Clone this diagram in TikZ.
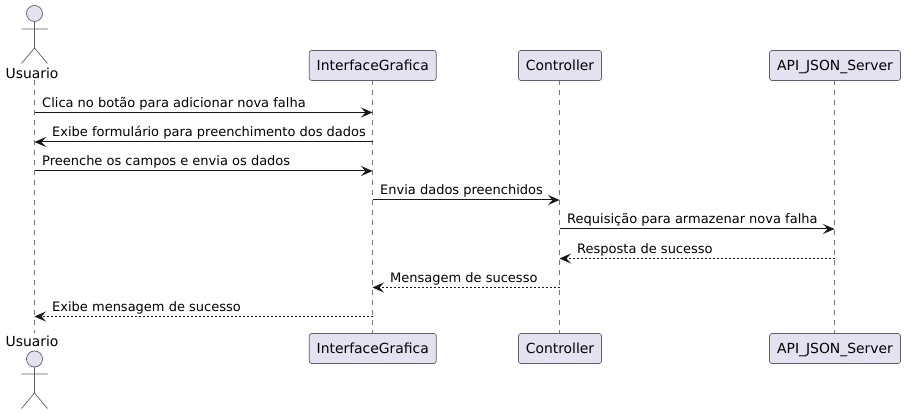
\documentclass[tikz,border=0pt]{standalone}
\usepackage{fontspec}
\setmainfont{DejaVu Sans}
\usetikzlibrary{arrows.meta}
\definecolor{pfill}{HTML}{E2E2F0}
\definecolor{pline}{HTML}{181818}
\definecolor{boxline}{HTML}{5F5F6A}
\definecolor{lifeline}{HTML}{777777}
\tikzset{
  x=1pt,y=-1pt,
  pbox/.style={draw=boxline,fill=pfill,line width=0.7pt,rounded corners=2.5pt,minimum height=30pt,inner sep=0pt,anchor=center,text=black},
  ptext/.style={inner sep=0pt,anchor=base,font=\fontsize{13.9}{16}\selectfont,text=black},
  life/.style={draw=lifeline,line width=0.7pt,dash pattern=on 5pt off 5pt},
  msg/.style={draw=pline,line width=1pt,-{Stealth[length=11.5pt,width=10pt,inset=4.5pt,fill=pline]}},
  reply/.style={draw=pline,line width=0.8pt,dash pattern=on 2pt off 2pt,-{Stealth[length=11.5pt,width=10pt,inset=4.5pt,fill=pline]}},
  lab/.style={anchor=base west,inner sep=0pt,font=\fontsize{13}{15}\selectfont,text=black},
  aname/.style={inner sep=0pt,anchor=base,font=\fontsize{13.9}{16}\selectfont,text=black},
  actorline/.style={draw=boxline,line width=0.7pt},
  actorhead/.style={draw=boxline,fill=pfill,line width=0.7pt},
}
\begin{document}
\begin{tikzpicture}
\useasboundingbox (0,0) rectangle (905,414);
% lifeline ends
\coordinate (ut) at (34.5,80);
\coordinate (ub) at (34.5,333);
\coordinate (it) at (372.5,80);
\coordinate (ib) at (372.5,334);
\coordinate (ct) at (559.5,80);
\coordinate (cb) at (559.5,334);
\coordinate (at) at (834.5,80);
\coordinate (ab) at (834.5,334);
\draw[life] (ut) -- (ub);
\draw[life] (it) -- (ib);
\draw[life] (ct) -- (cb);
\draw[life] (at) -- (ab);
% participants
\node[pbox,minimum width=127pt] (ifTop) at (372.75,65.5) {};
\node[pbox,minimum width=83pt] (ctTop) at (560,65.5) {};
\node[pbox,minimum width=131pt] (apTop) at (835,65.5) {};
\node[pbox,minimum width=127pt] (ifBot) at (372.75,348.5) {};
\node[pbox,minimum width=83pt] (ctBot) at (560,348.5) {};
\node[pbox,minimum width=131pt] (apBot) at (835,348.5) {};
\node[ptext] (ifTopT) at (372.75,70.6) {InterfaceGrafica};
\node[ptext] (ctTopT) at (560,70.6) {Controller};
\node[ptext] (apTopT) at (835,70.6) {API\_JSON\_Server};
\node[ptext] (ifBotT) at (372.75,353.6) {InterfaceGrafica};
\node[ptext] (ctBotT) at (560,353.6) {Controller};
\node[ptext] (apBotT) at (835,353.6) {API\_JSON\_Server};
% actor top
\draw[actorhead] (34.5,13.5) circle (8);
\draw[actorline] (34.5,21.5) -- (34.5,48) (21.5,29) -- (47.5,29) (21.5,63.5) -- (34.5,48) -- (47.5,63.5);
\node[aname] (uTop) at (32,78.6) {Usuario};
% actor bottom
\node[aname] (uBot) at (32,346.6) {Usuario};
\draw[actorhead] (34.5,359) circle (8);
\draw[actorline] (34.5,367) -- (34.5,393) (21.5,374) -- (47.5,374) (21.5,408.5) -- (34.5,393) -- (47.5,408.5);
% message anchors
\foreach \n/\y in {1/112.5,2/142,3/171,4/200,5/229,6/258.5,7/287.5,8/316.5}{
  \coordinate (u\n) at (34.5,\y);
  \coordinate (i\n) at (372.5,\y);
  \coordinate (c\n) at (559.5,\y);
  \coordinate (a\n) at (834.5,\y);
}
\draw[msg] (u1) -- (i1);
\draw[msg] (i2) -- (u2);
\draw[msg] (u3) -- (i3);
\draw[msg] (i4) -- (c4);
\draw[msg] (c5) -- (a5);
\draw[reply] (a6) -- (c6);
\draw[reply] (c7) -- (i7);
\draw[reply] (i8) -- (u8);
\node[lab] (m1) at (42,107.5) {Clica no botão para adicionar nova falha};
\node[lab] (m2) at (52,137) {Exibe formulário para preenchimento dos dados};
\node[lab] (m3) at (42,166) {Preenche os campos e envia os dados};
\node[lab] (m4) at (380,195) {Envia dados preenchidos};
\node[lab] (m5) at (567,224) {Requisição para armazenar nova falha};
\node[lab] (m6) at (577,253.4) {Resposta de sucesso};
\node[lab] (m7) at (390,282.4) {Mensagem de sucesso};
\node[lab] (m8) at (52,311) {Exibe mensagem de sucesso};
\end{tikzpicture}
\end{document}
